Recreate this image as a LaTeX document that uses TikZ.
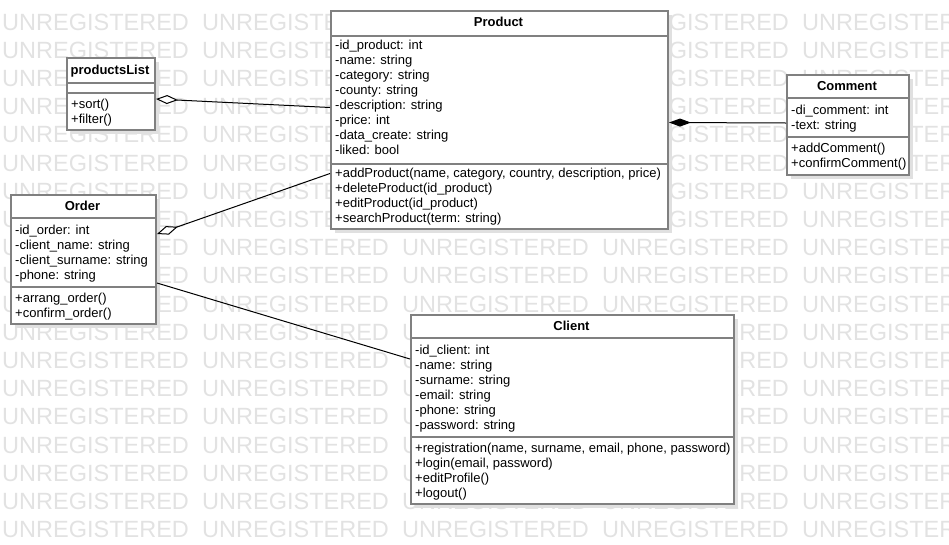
\documentclass[tikz,border=0pt]{standalone}
\usepackage{fontspec}
\setmainfont{Liberation Sans}
\usepackage{tikz}
\usetikzlibrary{arrows.meta}
\definecolor{boxgray}{RGB}{128, 128, 128}
\definecolor{wm}{RGB}{226, 226, 226}
\definecolor{shadowgray}{RGB}{224, 224, 224}

\begin{document}
\begin{tikzpicture}[x = 1pt, y = -1pt, font = \fontsize{13}{15}\selectfont,
  classbox/.style = {draw = boxgray, line width = 2pt, fill = white, inner sep = 0pt, anchor = north west},
  sepline/.style = {draw = boxgray, line width = 2pt},
  shadowbox/.style = {fill = shadowgray},
  row/.style = {anchor = base west, inner sep = 0pt},
  classtitle/.style = {anchor = base, inner sep = 0pt, font = \fontsize{13}{15}\selectfont\bfseries},
  wmtext/.style = {anchor = west, inner sep = 0pt, text = wm, font = \fontsize{23.5}{24}\selectfont},
  link/.style = {draw = black, line width = 1pt},
  agg/.style = {link, arrows = {Diamond[fill = white, length = 22pt, width = 9pt]-}},
  comp/.style = {link, arrows = {Diamond[fill = black, length = 22pt, width = 8pt]-}}]
\useasboundingbox (0,0) rectangle (949,544);
% watermark
\foreach \r in {0,...,18}
  \foreach \c in {0,...,4}
    \node[wmtext] at ({2 + 200*\c},{22 + 28.2*\r}) {UNREGISTERED};
% shadows
\fill[shadowbox] (335,15) rectangle (672,233);
\fill[shadowbox] (71,62) rectangle (159,134);
\fill[shadowbox] (791,79) rectangle (913,179);
\fill[shadowbox] (15,199) rectangle (160,328);
\fill[shadowbox] (415,319) rectangle (738,508);
% Product
\node[classbox, minimum width = 337pt, minimum height = 218pt] (product) at (330,10) {};
\draw[sepline] (330,36) -- (667,36);
\draw[sepline] (330,164) -- (667,164);
\node[classtitle] at (498.5,26.5) {Product};
\foreach \t [count = \i from 0] in {-id\_product: int, -name: string, -category: string, -county: string,
    -description: string, -price: int, -data\_create: string, -liked: bool}
  \node[row] at (335,{49.5 + 15*\i}) {\t};
\foreach \t [count = \i from 0] in {{+addProduct(name, category, country, description, price)},
    +deleteProduct(id\_product), +editProduct(id\_product), {+searchProduct(term: string)}}
  \node[row] at (335,{177.5 + 15*\i}) {\t};
% productsList
\node[classbox, minimum width = 88pt, minimum height = 72pt] (plist) at (66,57) {};
\draw[sepline] (66,83) -- (154,83);
\draw[sepline] (66,93) -- (154,93);
\node[classtitle] at (110,74.5) {productsList};
\foreach \t [count = \i from 0] in {+sort(), +filter()}
  \node[row] at (71,{108.5 + 15*\i}) {\t};
% Comment
\node[classbox, minimum width = 122pt, minimum height = 100pt] (comment) at (786,74) {};
\draw[sepline] (786,98) -- (908,98);
\draw[sepline] (786,137) -- (908,137);
\node[classtitle] at (847,90.5) {Comment};
\foreach \t [count = \i from 0] in {-di\_comment: int, -text: string}
  \node[row] at (791,{114.5 + 15*\i}) {\t};
\foreach \t [count = \i from 0] in {+addComment(), +confirmComment()}
  \node[row] at (791,{152.5 + 15*\i}) {\t};
% Order
\node[classbox, minimum width = 145pt, minimum height = 129pt] (order) at (10,194) {};
\draw[sepline] (10,218) -- (155,218);
\draw[sepline] (10,287) -- (155,287);
\node[classtitle] at (82.5,210.5) {Order};
\foreach \t [count = \i from 0] in {-id\_order: int, -client\_name: string, -client\_surname: string, -phone: string}
  \node[row] at (15,{234.5 + 15*\i}) {\t};
\foreach \t [count = \i from 0] in {+arrang\_order(), +confirm\_order()}
  \node[row] at (15,{302.5 + 15*\i}) {\t};
% Client
\node[classbox, minimum width = 323pt, minimum height = 189pt] (client) at (410,314) {};
\draw[sepline] (410,338) -- (733,338);
\draw[sepline] (410,437) -- (733,437);
\node[classtitle] at (571.5,330.5) {Client};
\foreach \t [count = \i from 0] in {-id\_client: int, -name: string, -surname: string, -email: string,
    -phone: string, -password: string}
  \node[row] at (415,{354.5 + 15*\i}) {\t};
\foreach \t [count = \i from 0] in {{+registration(name, surname, email, phone, password)},
    {+login(email, password)}, +editProfile(), +logout()}
  \node[row] at (415,{452.5 + 15*\i}) {\t};
% links
\draw[agg] ([yshift = -5pt]plist.east) -- ([yshift = 12.5pt]product.west);
\draw[agg] ([yshift = 25.5pt]order.east) -- ([yshift = -53.5pt]product.west);
\draw[comp] ([yshift = -2.5pt]product.east) -- ([yshift = 2pt]comment.west);
\draw[link] ([yshift = -23.5pt]order.east) -- ([yshift = 50.5pt]client.west);
\end{tikzpicture}
\end{document}
